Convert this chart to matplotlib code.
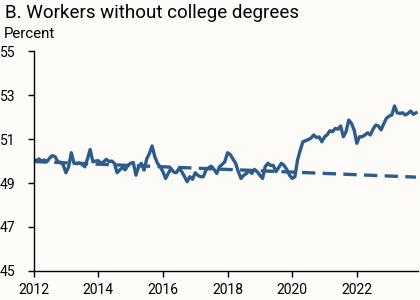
import numpy as np
import matplotlib
matplotlib.use("Agg")
import matplotlib.pyplot as plt

# monthly share (percent), Jan 2012 - Nov 2023
share_by_year = {
    2012: [50.1, 50.0, 50.1, 50.0, 50.05, 49.98, 50.15, 50.25, 50.2, 49.97, 49.95, 49.82],
    2013: [49.47, 49.74, 50.38, 49.9, 49.88, 49.92, 49.85, 49.74, 50.1, 50.53, 49.97, 50.0],
    2014: [50.02, 49.9, 49.97, 50.08, 49.98, 50.0, 49.9, 49.47, 49.6, 49.71, 49.6, 49.8],
    2015: [49.9, 49.94, 49.36, 49.74, 49.9, 49.59, 50.1, 50.35, 50.69, 50.2, 49.9, 49.74],
    2016: [49.52, 49.21, 49.44, 49.67, 49.5, 49.47, 49.67, 49.52, 49.3, 49.06, 49.29, 49.17],
    2017: [49.47, 49.35, 49.29, 49.29, 49.59, 49.7, 49.77, 49.62, 49.44, 49.74, 49.85, 49.97],
    2018: [50.38, 50.3, 50.1, 49.9, 49.52, 49.21, 49.35, 49.44, 49.57, 49.44, 49.62, 49.52],
    2019: [49.36, 49.21, 49.75, 49.9, 49.8, 49.8, 49.52, 49.71, 49.9, 49.8, 49.62, 49.36],
    2020: [49.21, 49.29, 50.05, 50.5, 50.88, 50.93, 50.98, 51.05, 51.19, 51.07, 51.1, 50.88],
    2021: [51.1, 51.2, 51.38, 51.34, 51.49, 51.45, 51.6, 51.11, 51.34, 51.87, 51.72, 51.42],
    2022: [50.81, 51.11, 51.11, 51.19, 51.29, 51.19, 51.45, 51.64, 51.6, 51.42, 51.7, 51.95],
    2023: [52.05, 52.1, 52.51, 52.2, 52.17, 52.2, 52.1, 52.17, 52.28, 52.13, 52.2],
}

# pre-pandemic trend line (endpoints)
trend_x = [2012.0, 2023.83]
trend_y = [49.98, 49.27]

year_ticks = [2012, 2014, 2016, 2018, 2020, 2022]
y_ticks = [45, 47, 49, 51, 53, 55]

t = []
vals = []
for yr, months in share_by_year.items():
    for i, v in enumerate(months):
        t.append(yr + i / 12)
        vals.append(v)

bg = "#fcfbf8"
blue = "#2d5c8b"
plt.rcParams['font.family'] = ['Roboto', 'DejaVu Sans']

fig = plt.figure(figsize=(4.2, 3.0), dpi=100, facecolor=bg)
ax = fig.add_axes([0.08, 0.097, 0.915, 0.732], facecolor=bg)

ax.plot(t, vals, color=blue, lw=2.4, solid_joinstyle='round')
ax.plot(trend_x, trend_y, color=blue, lw=2.4, ls=(0, (4.0, 2.2)))

ax.set_xlim(2012, 2023.89)
ax.set_ylim(45, 55)
ax.set_xticks(year_ticks)
ax.set_yticks(y_ticks)
ax.tick_params(axis='both', direction='out', length=4, width=1, labelsize=10,
               colors='black')
ax.tick_params(axis='y', pad=9)
ax.tick_params(axis='x', pad=5)
for s in ['top', 'right']:
    ax.spines[s].set_visible(False)
for s in ['left', 'bottom']:
    ax.spines[s].set_linewidth(1)

fig.text(0.012, 0.955, "B. Workers without college degrees", fontsize=13.5,
         va='center', ha='left')
fig.text(0.01, 0.888, "Percent", fontsize=10.8, va='center', ha='left')

fig.savefig("out.png", dpi=100, facecolor=bg)
